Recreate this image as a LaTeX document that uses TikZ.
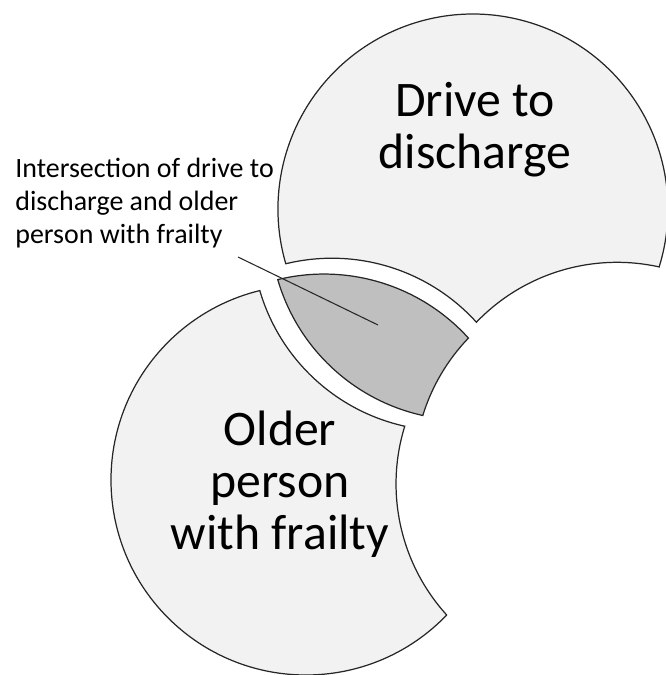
\documentclass[tikz,border=0pt]{standalone}
\usepackage{fontspec}
\setmainfont{Carlito}
\definecolor{paleset}{HTML}{F2F2F2}
\definecolor{overlap}{HTML}{BFBFBF}
\tikzset{
  setpart/.style={draw=black!85, line width=0.7pt, line join=miter},
  bigtext/.style={inner sep=0pt, align=center, font=\fontsize{28.3}{29.5}\selectfont},
  notetext/.style={inner sep=0pt, align=left, font=\fontsize{15.9}{18.8}\selectfont},
  leader/.style={draw=black!85, line width=0.6pt}
}
\begin{document}
\begin{tikzpicture}[x=0.02cm, y=-0.02cm]
  \useasboundingbox (0,0) rectangle (665,675);
  % drive to discharge, without the other two sets
  \begin{scope}[shift={(332,453)}]
    \draw [setpart, fill=paleset] (327.2,-186.3)
      arc[start angle=17.2, end angle=-196.3, radius=195]
      arc[start angle=-103.7, end angle=-42.2, radius=195]
      arc[start angle=-136.15, end angle=-77.5, radius=195] -- cycle;
  \end{scope}
  % older person with frailty, without the other two sets
  \begin{scope}[shift={(306,480)}]
    \draw [setpart, fill=paleset] (140.6,135.1)
      arc[start angle=43.85, end angle=256.3, radius=195]
      arc[start angle=163.7, end angle=102.5, radius=195]
      arc[start angle=197.2, end angle=137.8, radius=195] -- cycle;
  \end{scope}
  % the intersection
  \begin{scope}[shift={(324,469)}]
    \draw [setpart, fill=overlap] (-46.2,-189.4)
      arc[start angle=-103.7, end angle=-42.2, radius=195]
      arc[start angle=-136.15, end angle=-162.8, radius=195]
      arc[start angle=102.5, end angle=163.7, radius=195] -- cycle;
  \end{scope}
  \node [bigtext] (drive) at (475,130) {Drive to\\discharge};
  \node [bigtext] (older) at (280,484) {Older\\person\\with frailty};
  \node [notetext, anchor=west] (note) at (15,203)
    {Intersection of drive to\\discharge and older\\person with frailty};
  \coordinate (lstart) at (238,257);
  \coordinate (lend) at (378,325);
  \draw [leader] (lstart) -- (lend);
\end{tikzpicture}
\end{document}
